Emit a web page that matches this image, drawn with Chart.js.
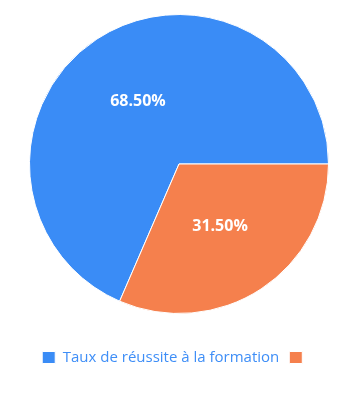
<!DOCTYPE html>
<html><head><meta charset="utf-8">
<script src="https://cdn.jsdelivr.net/npm/chart.js@4/dist/chart.umd.min.js"></script>
<style>html,body{margin:0;padding:0;background:#fff}#wrap{width:358px;height:395px}</style>
</head><body><div id="wrap"><canvas id="c"></canvas></div>
<script>
const categories = ["Taux de réussite à la formation", ""];
const values = [68.5, 31.5];
const colors = ["#3a8cf6", "#f5804d"];

const labelPlugin = {
  id: 'pctLabels',
  beforeLayout(chart) {
    const lg = chart.legend;
    if (lg && !lg._patched) {
      const origFit = lg.fit;
      lg.fit = function () { origFit.call(this); this.height = 81; };
      const origDraw = lg.draw;
      lg.draw = function () {
        const c = this.ctx;
        c.save();
        c.translate(-3, 26);
        origDraw.call(this);
        c.restore();
      };
      lg._patched = true;
    }
  },
  afterDatasetsDraw(chart) {
    const ctx = chart.ctx;
    const meta = chart.getDatasetMeta(0);
    ctx.save();
    ctx.font = 'bold 16px "Open Sans", sans-serif';
    ctx.fillStyle = '#ffffff';
    ctx.textAlign = 'center';
    ctx.textBaseline = 'middle';
    meta.data.forEach((arc, i) => {
      const mid = (arc.startAngle + arc.endAngle) / 2;
      const r = arc.outerRadius / 2;
      ctx.fillText(values[i].toFixed(2) + '%', arc.x + Math.cos(mid) * r, arc.y + Math.sin(mid) * r);
    });
    ctx.restore();
  }
};

new Chart(document.getElementById('c'), {
  type: 'pie',
  data: {
    labels: categories,
    datasets: [{ data: values, backgroundColor: colors, borderColor: '#ffffff', borderWidth: 1 }]
  },
  options: {
    responsive: true,
    maintainAspectRatio: false,
    animation: false,
    rotation: 203.4,
    layout: { padding: { top: 14, bottom: 0 } },
    plugins: {
      legend: {
        position: 'bottom',
        labels: { color: '#3e8ef7', boxWidth: 13, boxHeight: 12, font: { size: 15, family: '"Open Sans", sans-serif' }, padding: 10 }
      },
      tooltip: { enabled: false }
    }
  },
  plugins: [labelPlugin]
});
</script></body></html>
